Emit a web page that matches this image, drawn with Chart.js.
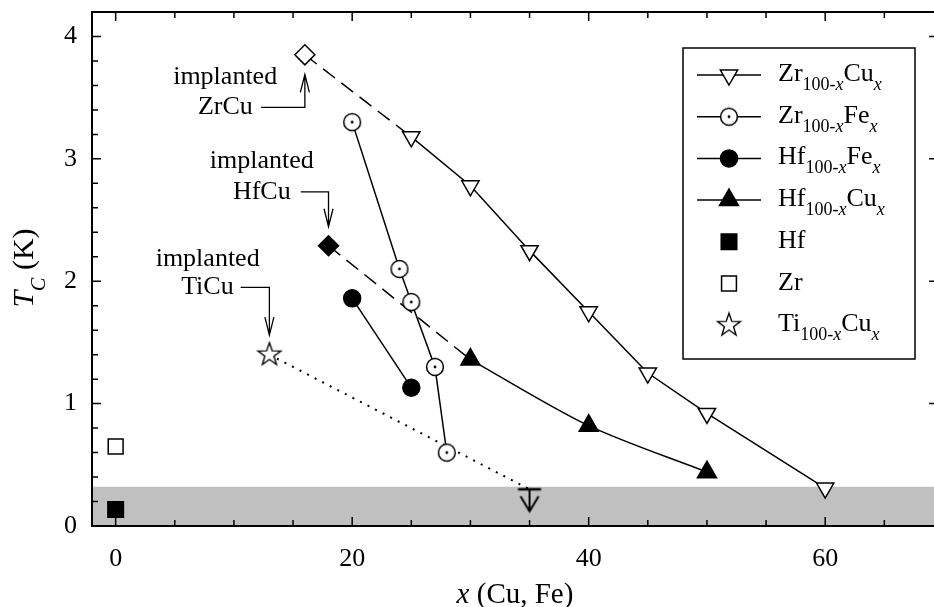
<!DOCTYPE html>
<html>
<head>
<meta charset="utf-8">
<script src="https://cdn.jsdelivr.net/npm/chart.js@4.4.0/dist/chart.umd.min.js"></script>
<style>
  html, body { margin: 0; padding: 0; overflow: hidden; background: #fff; }
  #tc { display: block; }
</style>
</head>
<body>
<canvas id="tc" width="934" height="607"></canvas>
<script>
// Tc (K) against solute content x (at.% Cu or Fe)
const zrCuX = [25, 30, 35, 40, 45, 50, 60];
const zrCuY = [3.18, 2.78, 2.25, 1.75, 1.25, 0.92, 0.31];
const zrFeX = [20, 24, 25, 27, 28];
const zrFeY = [3.30, 2.10, 1.83, 1.30, 0.60];
const hfFeX = [20, 25];
const hfFeY = [1.86, 1.13];
const hfCuX = [30, 40, 50];
const hfCuY = [1.36, 0.82, 0.44];
const hfX = [0];
const hfY = [0.135];
const zrX = [0];
const zrY = [0.65];
const tiCuX = [13];
const tiCuY = [1.40];
const tiCuLimitX = [35];      // upper limit only
const tiCuLimitY = [0.30];
const implZrCuX = [16];
const implZrCuY = [3.85];
const implHfCuX = [18];
const implHfCuY = [2.29];
const bandTop = 0.32;         // grey: below reachable temperature

const xTicks = [0, 20, 40, 60];
const yTicks = [0, 1, 2, 3, 4];
// the original plot runs a little past the right edge of the picture
const xMin = -2, xMax = 69.2, yMin = 0, yMax = 4.2;

const SERIF = "'Liberation Serif', 'DejaVu Serif', serif";
Chart.defaults.font.family = SERIF;
Chart.defaults.color = '#000';

const pts = (xs, ys) => xs.map((x, i) => ({ x: x, y: ys[i] }));

function sprite(w, h, draw) {
  const c = document.createElement('canvas');
  c.width = w; c.height = h;
  draw(c.getContext('2d'));
  return c;
}

const circleDot = sprite(22, 22, g => {
  g.beginPath(); g.arc(11, 11, 8.4, 0, 2 * Math.PI);
  g.fillStyle = '#fff'; g.fill();
  g.lineWidth = 1.5; g.strokeStyle = '#000'; g.stroke();
  g.beginPath(); g.arc(11, 11, 1.4, 0, 2 * Math.PI);
  g.fillStyle = '#000'; g.fill();
});

const starMark = sprite(28, 28, g => {
  g.beginPath();
  for (let i = 0; i < 10; i++) {
    const r = i % 2 ? 4.8 : 12;
    const a = -Math.PI / 2 + i * Math.PI / 5;
    const px = 14 + r * Math.cos(a), py = 14 + r * Math.sin(a);
    if (i) g.lineTo(px, py); else g.moveTo(px, py);
  }
  g.closePath();
  g.fillStyle = '#fff'; g.fill();
  g.lineWidth = 1.4; g.lineJoin = 'miter'; g.strokeStyle = '#000'; g.stroke();
});

const limitMark = sprite(28, 50, g => {
  g.strokeStyle = '#000';
  g.lineWidth = 2.5;
  g.beginPath(); g.moveTo(2.5, 25); g.lineTo(25.5, 25); g.stroke();
  g.lineWidth = 2;
  g.beginPath(); g.moveTo(14, 25); g.lineTo(14, 47); g.stroke();
  g.beginPath(); g.moveTo(5, 32); g.lineTo(14, 47); g.lineTo(23, 32); g.stroke();
});

const base = {
  showLine: true,
  borderColor: '#000',
  borderWidth: 1.5,
  pointBorderColor: '#000',
  pointBorderWidth: 1.5
};

const datasets = [
  Object.assign({}, base, { data: pts(zrCuX, zrCuY), pointStyle: 'triangle', pointRotation: 180,
    pointRadius: 10, pointBackgroundColor: '#fff' }),
  Object.assign({}, base, { data: pts(zrFeX, zrFeY), pointStyle: circleDot, pointRadius: 9 }),
  Object.assign({}, base, { data: pts(hfFeX, hfFeY), pointStyle: 'circle', pointRadius: 8.5,
    pointBackgroundColor: '#000' }),
  Object.assign({}, base, { data: pts(hfCuX, hfCuY), pointStyle: 'triangle', pointRadius: 11,
    pointBackgroundColor: '#000', tension: 0.3 }),
  Object.assign({}, base, { data: pts(hfX, hfY), showLine: false, pointStyle: 'rect', pointRadius: 11,
    pointBackgroundColor: '#000' }),
  Object.assign({}, base, { data: pts(zrX, zrY), showLine: false, pointStyle: 'rect', pointRadius: 10.5,
    pointBackgroundColor: '#fff' }),
  Object.assign({}, base, { data: pts(tiCuX, tiCuY), showLine: false, pointStyle: starMark, pointRadius: 12 }),
  Object.assign({}, base, { data: pts(implZrCuX, implZrCuY), showLine: false, pointStyle: 'rectRot',
    pointRadius: 10, pointBackgroundColor: '#fff' }),
  Object.assign({}, base, { data: pts(implHfCuX, implHfCuY), showLine: false, pointStyle: 'rectRot',
    pointRadius: 10, pointBackgroundColor: '#000' }),
  Object.assign({}, base, { data: pts(tiCuLimitX, tiCuLimitY), showLine: false, pointStyle: limitMark,
    pointRadius: 12 }),
  // connectors from the implanted samples
  Object.assign({}, base, { data: [pts(implZrCuX, implZrCuY)[0], pts(zrCuX, zrCuY)[0]], pointRadius: 0,
    borderDash: [15, 8] }),
  Object.assign({}, base, { data: [pts(implHfCuX, implHfCuY)[0], pts(hfCuX, hfCuY)[0]], pointRadius: 0,
    borderDash: [15, 8] }),
  Object.assign({}, base, { data: [pts(tiCuX, tiCuY)[0], pts(tiCuLimitX, tiCuLimitY)[0]], pointRadius: 0,
    borderDash: [2, 6.5], borderWidth: 2 }),
  // grey band
  { data: [{ x: xMin, y: bandTop }, { x: xMax, y: bandTop }], showLine: true, fill: 'origin',
    backgroundColor: '#c0c0c0', borderWidth: 0, pointRadius: 0 }
];

// legend rows: dataset index, line sample, label pieces (n normal, s sub, si sub italic)
const legendRows = [
  { ds: 0, line: true, label: [['Zr', 'n'], ['100-', 's'], ['x', 'si'], ['Cu', 'n'], ['x', 'si']] },
  { ds: 1, line: true, label: [['Zr', 'n'], ['100-', 's'], ['x', 'si'], ['Fe', 'n'], ['x', 'si']] },
  { ds: 2, line: true, label: [['Hf', 'n'], ['100-', 's'], ['x', 'si'], ['Fe', 'n'], ['x', 'si']] },
  { ds: 3, line: true, label: [['Hf', 'n'], ['100-', 's'], ['x', 'si'], ['Cu', 'n'], ['x', 'si']] },
  { ds: 4, line: false, label: [['Hf', 'n']] },
  { ds: 5, line: false, label: [['Zr', 'n']] },
  { ds: 6, line: false, label: [['Ti', 'n'], ['100-', 's'], ['x', 'si'], ['Cu', 'n'], ['x', 'si']] }
];

// "implanted" call-outs, all in data units
const notes = [
  { name: 'ZrCu', cx: 9.26, topY: 3.67, nameRight: 11.6, nameY: 3.42, armFrom: 12.3,
    armX: implZrCuX[0], tipY: 3.69 },
  { name: 'HfCu', cx: 12.35, topY: 2.98, nameRight: 14.8, nameY: 2.73, armFrom: 15.65,
    armX: implHfCuX[0], tipY: 2.445 },
  { name: 'TiCu', cx: 7.78, topY: 2.18, nameRight: 9.98, nameY: 1.95, armFrom: 10.57,
    armX: tiCuX[0], tipY: 1.56 }
];

const fontOf = st => {
  const size = st[0] === 's' ? 18 : 26;
  return (st.indexOf('i') >= 0 ? 'italic ' : '') + size + 'px ' + SERIF;
};

function drawRich(ctx, parts, x, y) {
  ctx.textBaseline = 'alphabetic';
  ctx.textAlign = 'left';
  for (const [txt, st] of parts) {
    ctx.font = fontOf(st);
    ctx.fillText(txt, x, st[0] === 's' ? y + 9 : y);
    x += ctx.measureText(txt).width;
  }
}

// keep the plot box where the reference has it
function noPad(s) {
  s.paddingTop = 0; s.paddingBottom = 0; s.paddingLeft = 0; s.paddingRight = 0;
}

const decor = {
  id: 'decor',
  afterDatasetsDraw(chart) {
    const { ctx, chartArea: a, scales: { x, y } } = chart;
    ctx.save();
    ctx.strokeStyle = '#000';
    ctx.fillStyle = '#000';

    // frame (right side is off the picture) and inward ticks
    ctx.lineWidth = 2;
    ctx.beginPath();
    ctx.moveTo(a.right, a.top); ctx.lineTo(a.left, a.top);
    ctx.lineTo(a.left, a.bottom); ctx.lineTo(a.right, a.bottom);
    ctx.stroke();
    ctx.lineWidth = 1.5;
    ctx.beginPath();
    for (let v = 0; v <= xMax; v += 5) {
      const px = x.getPixelForValue(v);
      const len = xTicks.includes(v) ? 9 : 6;
      ctx.moveTo(px, a.bottom); ctx.lineTo(px, a.bottom - len);
      ctx.moveTo(px, a.top); ctx.lineTo(px, a.top + len);
    }
    for (let k = 0; k <= 21; k++) {
      const v = k / 5;
      const py = y.getPixelForValue(v);
      const major = k % 5 === 0;
      ctx.moveTo(a.left, py); ctx.lineTo(a.left + (major ? 9 : 6), py);
      if (major) { ctx.moveTo(a.right, py); ctx.lineTo(a.right - 5, py); }
    }
    ctx.stroke();

    // call-outs
    ctx.lineWidth = 1.3;
    for (const n of notes) {
      ctx.font = '26px ' + SERIF;
      ctx.textBaseline = 'middle';
      ctx.textAlign = 'center';
      ctx.fillText('implanted', x.getPixelForValue(n.cx), y.getPixelForValue(n.topY));
      ctx.textAlign = 'right';
      ctx.fillText(n.name, x.getPixelForValue(n.nameRight), y.getPixelForValue(n.nameY));
      const ax = x.getPixelForValue(n.armX), ay = y.getPixelForValue(n.nameY);
      const ty = y.getPixelForValue(n.tipY);
      const dir = ty < ay ? 1 : -1;
      ctx.beginPath();
      ctx.moveTo(x.getPixelForValue(n.armFrom), ay);
      ctx.lineTo(ax, ay);
      ctx.lineTo(ax, ty);
      ctx.moveTo(ax - 4.5, ty + dir * 18);
      ctx.lineTo(ax, ty);
      ctx.lineTo(ax + 4.5, ty + dir * 18);
      ctx.stroke();
    }

    // legend
    const L = { left: 683, top: 48, right: 915, bottom: 359 };
    ctx.fillStyle = '#fff';
    ctx.fillRect(L.left, L.top, L.right - L.left, L.bottom - L.top);
    ctx.lineWidth = 1.5;
    ctx.strokeRect(L.left, L.top, L.right - L.left, L.bottom - L.top);
    legendRows.forEach((row, i) => {
      const ly = L.top + 27 + i * 41.7;
      if (row.line) {
        ctx.beginPath(); ctx.moveTo(697, ly); ctx.lineTo(761, ly); ctx.stroke();
      }
      const o = chart.getDatasetMeta(row.ds).data[0].options;
      ctx.fillStyle = o.backgroundColor;
      ctx.strokeStyle = o.borderColor;
      ctx.lineWidth = o.borderWidth;
      Chart.helpers.drawPoint(ctx, o, 729, ly);
      ctx.fillStyle = '#000';
      ctx.strokeStyle = '#000';
      ctx.lineWidth = 1.5;
      drawRich(ctx, row.label, 778, ly + 6);
    });
    ctx.restore();
  },
  afterDraw(chart) {
    const { ctx } = chart;
    ctx.save();
    ctx.fillStyle = '#000';
    // x title, centred on the full original plot width
    const xt = [['x', 'italic 29px '], [' (Cu, Fe)', '29px ']];
    let w = 0;
    for (const [t, f] of xt) { ctx.font = f + SERIF; w += ctx.measureText(t).width; }
    let cx = 515 - w / 2;
    ctx.textBaseline = 'alphabetic'; ctx.textAlign = 'left';
    for (const [t, f] of xt) { ctx.font = f + SERIF; ctx.fillText(t, cx, 603); cx += ctx.measureText(t).width; }
    // y title
    const yt = [['T', 'italic 30px ', 0], ['C', 'italic 20px ', 12], [' (K)', '30px ', 0]];
    w = 0;
    for (const [t, f] of yt) { ctx.font = f + SERIF; w += ctx.measureText(t).width; }
    ctx.translate(33, 268);
    ctx.rotate(-Math.PI / 2);
    let px = -w / 2;
    for (const [t, f, dy] of yt) { ctx.font = f + SERIF; ctx.fillText(t, px, dy); px += ctx.measureText(t).width; }
    ctx.restore();
  }
};

new Chart(document.getElementById('tc'), {
  type: 'scatter',
  data: { datasets: datasets },
  options: {
    responsive: false,
    devicePixelRatio: 1,
    animation: false,
    events: [],
    layout: { autoPadding: false, padding: { top: 12, right: 0, left: 0, bottom: 0 } },
    plugins: { legend: { display: false }, tooltip: { enabled: false } },
    scales: {
      x: {
        type: 'linear', min: xMin, max: xMax,
        grid: { display: false, drawTicks: false },
        border: { display: false },
        afterBuildTicks: s => { s.ticks = xTicks.map(v => ({ value: v })); },
        afterFit: s => { s.height = 81; noPad(s); },
        ticks: { font: { size: 26 }, color: '#000', padding: 18, maxRotation: 0, autoSkip: false }
      },
      y: {
        type: 'linear', min: yMin, max: yMax,
        grid: { display: false, drawTicks: false },
        border: { display: false },
        afterBuildTicks: s => { s.ticks = yTicks.map(v => ({ value: v })); },
        afterFit: s => { s.width = 92; noPad(s); },
        ticks: { font: { size: 26 }, color: '#000', padding: 15, autoSkip: false }
      }
    }
  },
  plugins: [decor]
});
</script>
</body>
</html>
